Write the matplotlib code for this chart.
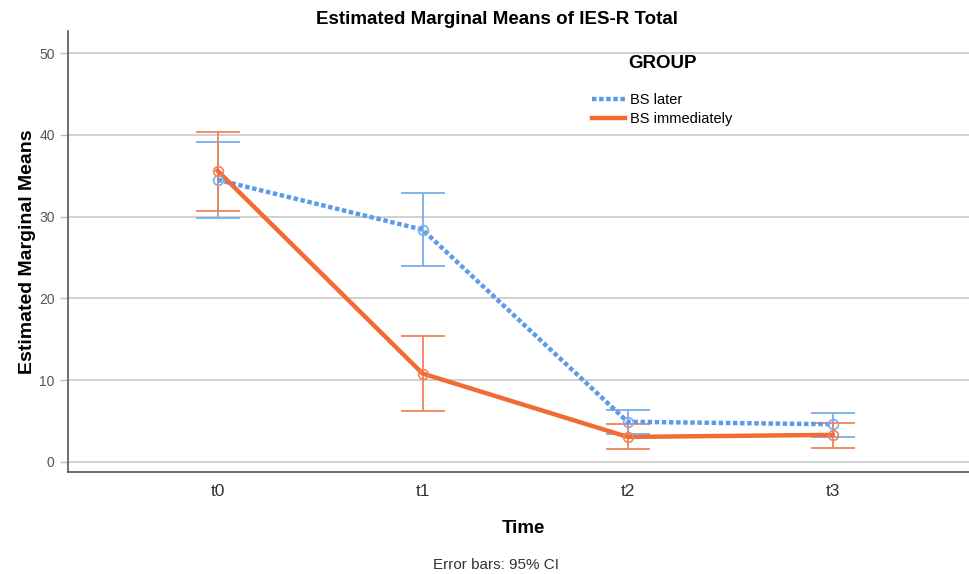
import matplotlib
matplotlib.use("Agg")
import matplotlib.pyplot as plt
import numpy as np

plt.rcParams['font.family'] = ['Liberation Sans', 'DejaVu Sans']

times = ["t0", "t1", "t2", "t3"]
later_mean = [34.5, 28.4, 4.9, 4.6]
later_lo = [29.8, 24.0, 3.4, 3.1]
later_hi = [39.1, 32.9, 6.4, 6.0]
immed_mean = [35.6, 10.8, 3.05, 3.3]
immed_lo = [30.7, 6.2, 1.6, 1.7]
immed_hi = [40.3, 15.4, 4.6, 4.8]

blue = "#5B9BE8"
orange = "#F26A34"
blue_eb = "#7AAEEA"
orange_eb = "#F0845A"

fig = plt.figure(figsize=(9.7, 5.74), dpi=100)
ax = fig.add_axes([0.070, 0.178, 0.930, 0.768])

x = np.arange(len(times))

def draw(mean, lo, hi, col, ecol, ls, lw, label):
    m = np.array(mean); l = np.array(lo); h = np.array(hi)
    ax.errorbar(x, m, yerr=[m - l, h - m], fmt='none', ecolor=ecol,
                elinewidth=1.3, capsize=16, capthick=1.3, zorder=3)
    ax.plot(x, m, color=col, ls=ls, lw=lw, zorder=4, label=label)
    ax.plot(x, m, 'o', mfc='none', mec=ecol, ms=7, mew=1.2, zorder=5)

draw(later_mean, later_lo, later_hi, blue, blue_eb, (0, (1, 0.6)), 3.2, "BS later")
draw(immed_mean, immed_lo, immed_hi, orange, orange_eb, '-', 3.2, "BS immediately")

ax.set_xlim(-0.73, 3.67)
ax.set_ylim(-1.22, 52.7)
ax.set_yticks([0, 10, 20, 30, 40, 50])
ax.set_xticks(x)
ax.set_xticklabels(times, fontsize=12.5, color="#333333")
ax.tick_params(axis='y', labelsize=10, colors="#555555", length=6, width=1, color="#bbbbbb")
ax.tick_params(axis='x', length=0, pad=9)
ax.grid(axis='y', color="#c8c8c8", lw=1.2)
ax.set_axisbelow(True)
for s in ['top', 'right']:
    ax.spines[s].set_visible(False)
for s in ['left', 'bottom']:
    ax.spines[s].set_color("#555555")
    ax.spines[s].set_linewidth(1.2)

ax.set_ylabel("Estimated Marginal Means", fontsize=14, fontweight='bold', labelpad=2)
fig.text(0.540, 0.080, "Time", fontsize=13.5, fontweight='bold', ha='center', va='center')
fig.text(0.511, 0.016, "Error bars: 95% CI", fontsize=11, ha='center', va='center', color="#333333")
fig.text(0.512, 0.966, "Estimated Marginal Means of IES-R Total", fontsize=13.5,
         fontweight='bold', ha='center', va='center')

fig.text(663 / 970, 1 - 63 / 574, "GROUP", fontsize=13.5, fontweight='bold',
         ha='center', va='center')
leg = ax.legend(loc='upper left', bbox_to_anchor=(0.575, 0.872), frameon=False,
                fontsize=10.5, handlelength=2.2, handletextpad=0.4,
                labelspacing=0.35, borderaxespad=0)

fig.savefig("out.png", dpi=100)
